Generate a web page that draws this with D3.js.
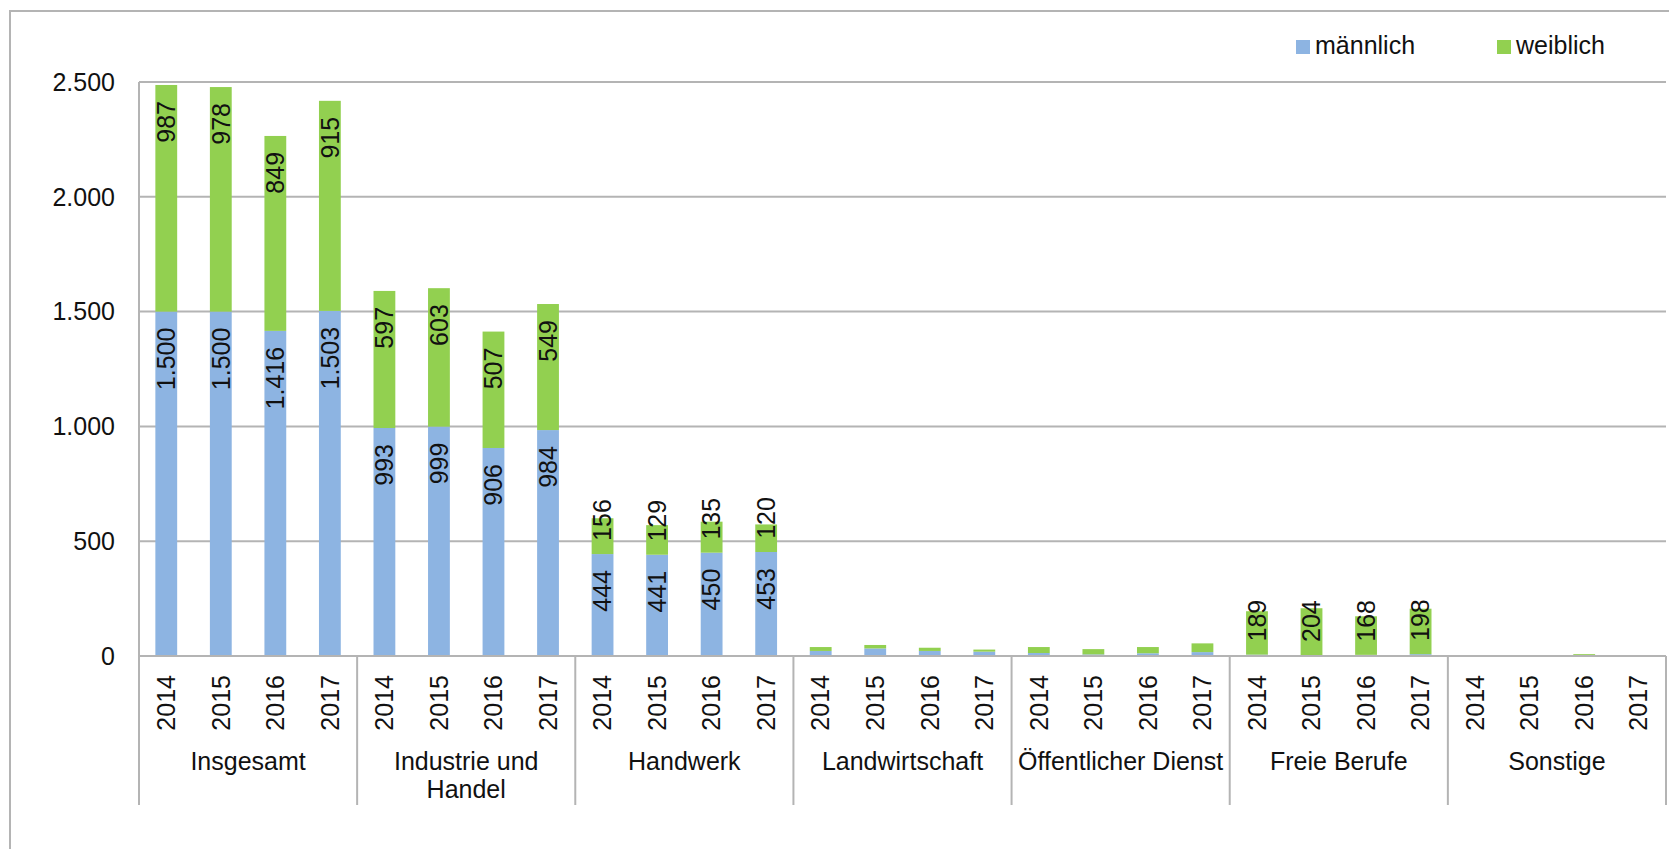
<!DOCTYPE html>
<html><head><meta charset="utf-8">
<script src="https://cdn.jsdelivr.net/npm/d3@7"></script>
<style>
html,body{margin:0;padding:0;background:#fff;}
svg{display:block;font-family:"Liberation Sans",Arial,sans-serif;}
</style></head>
<body>
<script>
const categories = ["Insgesamt", "Industrie und Handel", "Handwerk", "Landwirtschaft", "Öffentlicher Dienst", "Freie Berufe", "Sonstige"];
const categoryLines = [["Insgesamt"], ["Industrie und", "Handel"], ["Handwerk"], ["Landwirtschaft"], ["Öffentlicher Dienst"], ["Freie Berufe"], ["Sonstige"]];
const years = ["2014", "2015", "2016", "2017"];
const maennlich = [
  [1500, 1500, 1416, 1503],
  [993, 999, 906, 984],
  [444, 441, 450, 453],
  [22, 33, 22, 19],
  [13, 7, 12, 17],
  [6, 4, 5, 8],
  [0, 0, 1, 0]
];
const weiblich = [
  [987, 978, 849, 915],
  [597, 603, 507, 549],
  [156, 129, 135, 120],
  [17, 15, 14, 9],
  [26, 23, 27, 38],
  [189, 204, 168, 198],
  [2, 1, 7, 1]
];
const seriesNames = ["männlich", "weiblich"];
const seriesColors = ["#8DB4E2", "#92D050"];
const yTicks = [0, 500, 1000, 1500, 2000, 2500];

const W = 1669, H = 849;
const left = 139, right = 1666, yTopPx = 82, yZeroPx = 656, sepBottom = 805;
const fs = 25;
const gridColor = "#b4b4b4";
const de = d3.formatLocale({decimal: ",", thousands: ".", grouping: [3], currency: ["", "€"]});
const fmt = de.format(",d");

const svg = d3.select("body").append("svg").attr("width", W).attr("height", H);

// outer frame
svg.append("rect").attr("x", 10).attr("y", 11).attr("width", W + 50).attr("height", H + 50)
  .attr("fill", "none").attr("stroke", gridColor).attr("stroke-width", 2);

const y = d3.scaleLinear().domain([0, 2500]).range([yZeroPx, yTopPx]);
const x0 = d3.scaleBand().domain(categories).range([left, right]).paddingInner(0).paddingOuter(0);
const x1 = d3.scaleBand().domain(years).range([0, x0.bandwidth()]).paddingInner(0.6).paddingOuter(0.3);

// gridlines
svg.append("g").selectAll("line").data(yTicks).join("line")
  .attr("x1", left).attr("x2", right)
  .attr("y1", d => y(d)).attr("y2", d => y(d))
  .attr("stroke", gridColor).attr("stroke-width", 2);

// y tick labels
svg.append("g").selectAll("text").data(yTicks).join("text")
  .attr("x", 115).attr("y", d => y(d)).attr("dy", "0.35em")
  .attr("text-anchor", "end").attr("font-size", fs).attr("fill", "#111")
  .text(d => fmt(d));

// y axis line
svg.append("line").attr("x1", left).attr("x2", left).attr("y1", y(2500)).attr("y2", yZeroPx)
  .attr("stroke", gridColor).attr("stroke-width", 2);

// group separators
const seps = categories.map(c => x0(c)).concat([right]);
svg.append("g").selectAll("line").data(seps).join("line")
  .attr("x1", d => d).attr("x2", d => d).attr("y1", yZeroPx).attr("y2", sepBottom)
  .attr("stroke", gridColor).attr("stroke-width", 2);

// bars
const records = [];
categories.forEach((c, ci) => {
  years.forEach((yr, yi) => {
    const m = maennlich[ci][yi], w = weiblich[ci][yi];
    records.push({c, yr, s: 0, v0: 0, v1: m, v: m});
    records.push({c, yr, s: 1, v0: m, v1: m + w, v: w});
  });
});
const gBars = svg.append("g");
gBars.selectAll("rect").data(records).join("rect")
  .attr("x", d => x0(d.c) + x1(d.yr))
  .attr("width", x1.bandwidth())
  .attr("y", d => y(d.v1))
  .attr("height", d => y(d.v0) - y(d.v1))
  .attr("fill", d => seriesColors[d.s]);

// zero axis line
svg.append("line").attr("x1", left).attr("x2", right).attr("y1", yZeroPx).attr("y2", yZeroPx)
  .attr("stroke", gridColor).attr("stroke-width", 2);

// data labels
const pad = 16;
const gLab = svg.append("g");
records.filter(d => d.v >= 100).forEach(d => {
  const cx = x0(d.c) + x1(d.yr) + x1.bandwidth() / 2;
  const t = gLab.append("text").attr("font-size", fs).attr("fill", "#111")
    .attr("text-anchor", "middle").attr("dy", "0.35em").text(fmt(d.v));
  const len = t.node().getComputedTextLength();
  const segTop = y(d.v1), segBot = y(d.v0), segH = segBot - segTop;
  let cy;
  if (len + 2 * pad <= segH) cy = segTop + pad + len / 2;
  else cy = segBot - 34;
  t.attr("transform", `translate(${cx},${cy}) rotate(-90)`);
});

// year labels
const gYear = svg.append("g");
categories.forEach(c => {
  years.forEach(yr => {
    const cx = x0(c) + x1(yr) + x1.bandwidth() / 2;
    gYear.append("text").attr("transform", `translate(${cx},675) rotate(-90)`)
      .attr("text-anchor", "end").attr("dy", "0.35em")
      .attr("font-size", fs).attr("fill", "#111").text(yr);
  });
});

// category labels
const gCat = svg.append("g");
categories.forEach((c, ci) => {
  const t = gCat.append("text").attr("x", x0(c) + x0.bandwidth() / 2).attr("y", 770)
    .attr("text-anchor", "middle").attr("font-size", fs).attr("fill", "#111");
  categoryLines[ci].forEach((ln, li) => {
    t.append("tspan").attr("x", x0(c) + x0.bandwidth() / 2).attr("dy", li === 0 ? 0 : 28).text(ln);
  });
});

// legend
const legX = [1296, 1497];
const leg = svg.append("g");
seriesNames.forEach((n, i) => {
  leg.append("rect").attr("x", legX[i]).attr("y", 40).attr("width", 14).attr("height", 14).attr("fill", seriesColors[i]);
  leg.append("text").attr("x", legX[i] + 19).attr("y", 54).attr("font-size", fs).attr("fill", "#111").text(n);
});
</script>
</body></html>
